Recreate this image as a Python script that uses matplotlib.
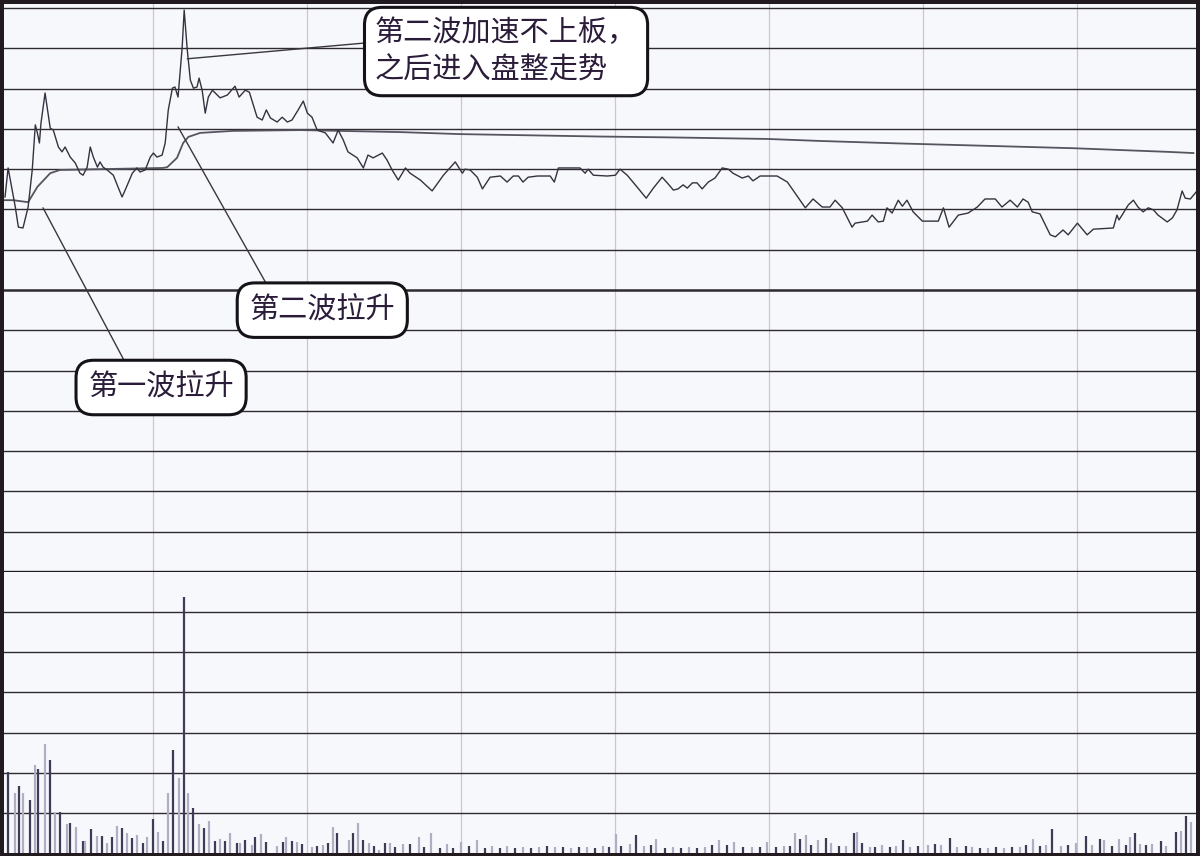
import matplotlib
matplotlib.use("Agg")
import matplotlib.pyplot as plt

plt.rcParams['font.family'] = ['Noto Sans CJK SC', 'DejaVu Sans']

# 分时价格 (minute, % change vs previous close)
price_t = [1.2, 1.8, 3.2, 3.8, 4.7, 5.7, 6.5, 7.1, 7.5, 7.9, 8.2, 9.0, 10.0, 10.6, 11.6, 12.3, 12.9,
           13.9, 14.9, 15.8, 16.4, 17.2, 17.8, 18.4, 19.2, 19.7, 20.3, 21.1, 22.3, 23.2, 24.0, 24.6,
           26.0, 26.9, 27.5, 28.5, 29.5, 30.1, 30.8, 31.8, 32.4, 33.0, 33.8, 34.3, 34.9, 35.7, 36.1,
           36.7, 37.3, 37.9, 38.6, 39.0, 39.6, 40.2, 40.8, 41.6, 43.1, 44.5, 46.0, 46.8, 48.0, 48.8,
           50.3, 51.3, 52.1, 52.9, 54.2, 55.2, 56.2, 57.1, 58.3, 59.3, 60.1, 61.0, 62.0, 63.6, 65.1,
           66.1, 67.1, 68.0, 69.8, 71.0, 71.9, 72.9, 74.7, 75.6, 76.6, 77.8, 79.2, 80.1, 82.1, 84.4,
           86.6, 88.9, 90.3, 90.8, 91.8, 93.2, 94.2, 95.7, 97.7, 99.0, 100.2, 101.2, 102.1, 103.1,
           104.9, 107.4, 108.2, 109.0, 113.2, 114.2, 114.8, 115.8, 118.5, 120.1, 121.0, 122.4, 124.3,
           126.1, 127.5, 129.2, 130.2, 131.4, 132.3, 133.3, 134.1, 135.1, 136.0, 137.0, 138.2, 139.5,
           140.9, 142.1, 143.0, 144.8, 146.0, 146.9, 148.3, 151.6, 153.6, 154.7, 156.1, 157.1, 158.6,
           160.4, 161.9, 162.9, 164.3, 165.3, 166.2, 166.8, 169.2, 170.1, 171.3, 172.3, 173.0, 174.0,
           175.2, 176.0, 176.9, 178.1, 179.9, 183.0, 184.0, 185.1, 186.9, 188.8, 190.6, 192.1, 194.1,
           195.4, 197.0, 198.4, 199.5, 200.5, 201.3, 202.8, 204.8, 205.8, 207.3, 208.3, 210.1, 212.0,
           213.2, 217.1, 217.8, 218.2, 218.8, 220.0, 221.0, 221.9, 222.9, 223.9, 224.9, 225.8, 227.6,
           228.6, 229.5, 230.5, 231.1, 232.1, 233.4]
price_v = [2.31, 3.03, 2.06, 1.56, 1.54, 2.06, 2.98, 4.10, 3.90, 3.65, 4.14, 4.89, 4.02, 3.97, 3.55,
           3.43, 3.55, 3.30, 3.15, 2.90, 2.85, 3.05, 3.55, 3.30, 3.05, 3.18, 3.05, 2.98, 2.85, 2.56,
           2.31, 2.48, 2.90, 3.03, 2.93, 2.98, 3.30, 3.40, 3.30, 3.35, 3.65, 4.47, 5.01, 5.04, 4.79,
           6.01, 6.95, 5.96, 5.21, 5.01, 5.04, 5.26, 4.96, 4.39, 4.79, 4.96, 4.77, 4.84, 5.06, 4.79,
           4.96, 4.91, 4.29, 4.22, 4.47, 4.27, 4.17, 4.29, 4.17, 4.22, 4.47, 4.69, 4.39, 4.29, 3.97,
           3.90, 3.65, 3.97, 3.72, 3.43, 3.28, 3.03, 3.35, 3.28, 3.40, 3.23, 2.98, 2.73, 3.03, 2.90,
           2.73, 2.46, 2.85, 3.18, 2.90, 3.00, 2.98, 2.80, 2.51, 2.80, 2.83, 2.68, 2.83, 2.83, 2.68,
           2.80, 2.83, 2.83, 2.68, 3.03, 3.03, 2.90, 3.00, 2.85, 2.83, 2.85, 3.00, 2.85, 2.56, 2.28,
           2.53, 2.80, 2.66, 2.48, 2.51, 2.61, 2.53, 2.66, 2.66, 2.51, 2.68, 2.78, 3.03, 3.00, 2.90,
           2.78, 2.83, 2.71, 2.83, 2.83, 2.68, 2.48, 2.23, 2.04, 2.26, 2.06, 2.06, 2.23, 2.04, 1.79,
           1.56, 1.66, 1.71, 1.86, 1.69, 1.71, 2.04, 1.91, 2.23, 2.08, 2.23, 1.94, 1.71, 1.71, 2.04,
           1.56, 1.86, 1.91, 2.06, 2.26, 2.26, 2.06, 2.23, 2.06, 2.26, 2.18, 1.94, 1.89, 1.37, 1.32,
           1.49, 1.37, 1.66, 1.37, 1.51, 1.54, 1.86, 1.74, 1.86, 2.11, 2.23, 2.06, 1.94, 2.04, 1.99,
           1.86, 1.69, 1.79, 1.99, 2.46, 2.28, 2.26, 2.46]

# 均价线
avg_t = [0.8, 2.8, 5.7, 7.5, 10.0, 11.9, 19.7, 32.0, 32.8, 34.7, 35.9, 36.9, 39.2, 45.6, 58.7,
         78.2, 89.9, 117.1, 130.0, 149.7, 160.0, 175.0, 195.1, 209.3, 227.6, 232.7]
avg_v = [2.23, 2.23, 2.18, 2.56, 2.90, 2.98, 3.00, 3.03, 3.05, 3.28, 3.65, 3.80, 3.90, 3.95, 3.97,
         3.92, 3.87, 3.81, 3.79, 3.75, 3.70, 3.64, 3.57, 3.52, 3.43, 3.40]

# 成交量
vol_t = [1.8, 3.2, 4.0, 4.7, 6.1, 7.1, 7.7, 9.0, 10.0, 11.0, 11.9, 13.3, 13.9, 15.1, 16.4, 16.8,
         18.0, 19.2, 20.1, 21.1, 22.1, 23.0, 24.0, 25.0, 26.0, 26.9, 28.1, 28.9, 30.1, 31.0, 32.0,
         33.0, 34.0, 35.1, 36.1, 36.9, 37.9, 39.0, 40.0, 41.0, 42.1, 43.1, 44.1, 45.1, 46.4, 47.0,
         48.0, 49.3, 49.9, 51.1, 52.1, 54.2, 55.4, 56.0, 57.1, 58.1, 59.1, 61.0, 62.0, 63.2, 64.1,
         65.1, 65.9, 68.2, 69.0, 70.0, 71.0, 72.1, 73.1, 74.1, 75.3, 76.2, 77.2, 78.8, 80.0, 81.9,
         82.9, 84.2, 86.0, 87.3, 88.5, 90.1, 91.6, 93.2, 94.7, 96.1, 97.7, 99.0, 100.6, 102.1, 103.7,
         105.2, 106.8, 108.4, 109.9, 111.5, 113.0, 114.6, 116.2, 117.7, 118.9, 120.3, 121.2, 123.0,
         124.1, 125.7, 127.1, 128.0, 129.8, 131.4, 132.9, 134.5, 136.0, 137.6, 139.0, 140.3, 141.9,
         143.2, 145.0, 146.7, 148.3, 149.7, 151.4, 153.0, 154.1, 155.1, 156.1, 157.3, 158.2, 159.6,
         161.2, 162.1, 163.7, 165.1, 166.6, 167.2, 168.2, 169.7, 170.7, 172.1, 173.6, 174.8, 176.2,
         177.5, 179.1, 181.0, 182.4, 183.6, 185.3, 186.7, 188.4, 189.6, 191.2, 192.7, 194.3, 195.8,
         197.4, 199.0, 200.1, 201.5, 202.8, 204.0, 205.2, 206.9, 208.3, 209.9, 211.8, 213.0, 214.5,
         215.3, 216.9, 218.2, 219.6, 220.4, 221.4, 222.3, 223.5, 224.7, 226.4, 227.4, 229.3, 230.3,
         231.3, 232.3]
vol_v = [2.01, 1.49, 1.67, 1.49, 1.32, 2.19, 2.09, 2.71, 2.31, 1.02, 1.02, 0.72, 0.75, 0.65, 0.30,
         0.30, 0.60, 0.42, 0.42, 0.25, 0.40, 0.67, 0.62, 0.50, 0.37, 0.45, 0.25, 0.40, 0.85, 0.52,
         0.30, 1.49, 2.56, 1.87, 6.37, 1.49, 1.12, 0.72, 0.62, 0.80, 0.30, 0.35, 0.30, 0.50, 0.25,
         0.25, 0.32, 0.20, 0.40, 0.47, 0.27, 0.17, 0.27, 0.40, 0.30, 0.27, 0.22, 0.15, 0.17, 0.20,
         0.25, 0.65, 0.50, 0.32, 0.50, 0.75, 0.32, 0.25, 0.17, 0.07, 0.25, 0.25, 0.15, 0.22, 0.22,
         0.40, 0.15, 0.50, 0.12, 0.22, 0.12, 0.27, 0.17, 0.32, 0.12, 0.17, 0.12, 0.17, 0.12, 0.15,
         0.12, 0.15, 0.17, 0.15, 0.15, 0.12, 0.15, 0.15, 0.12, 0.17, 0.15, 0.47, 0.17, 0.22, 0.45,
         0.17, 0.20, 0.35, 0.12, 0.15, 0.12, 0.15, 0.12, 0.15, 0.20, 0.32, 0.20, 0.27, 0.15, 0.15,
         0.15, 0.27, 0.15, 0.17, 0.17, 0.50, 0.35, 0.45, 0.20, 0.32, 0.37, 0.25, 0.17, 0.17, 0.50,
         0.52, 0.25, 0.15, 0.15, 0.20, 0.15, 0.17, 0.32, 0.15, 0.17, 0.20, 0.22, 0.20, 0.37, 0.15,
         0.17, 0.15, 0.12, 0.12, 0.15, 0.12, 0.15, 0.15, 0.20, 0.35, 0.17, 0.20, 0.60, 0.17, 0.20,
         0.25, 0.42, 0.20, 0.35, 0.32, 0.17, 0.35, 0.20, 0.40, 0.50, 0.22, 0.20, 0.22, 0.30, 0.17,
         0.52, 0.55, 0.92, 0.77]

time_grid = [30, 60, 90, 120, 150, 180, 210]

W, H = 1200, 856
fig = plt.figure(figsize=(12, 8.56), dpi=100, facecolor='#211a1f')
bg = '#f7f8fc'

ax = fig.add_axes([4 / W, (H - 572) / H, 1192 / W, 568 / H], facecolor=bg)
axv = fig.add_axes([4 / W, 3 / H, 1192 / W, 281 / H], facecolor=bg)

for a in (ax, axv):
    a.set_xlim(1.0, 233.2)
    for s in a.spines.values():
        s.set_visible(False)
    a.set_xticks([])
    a.set_yticks([])
    for t in time_grid:
        a.axvline(t, color='#c8c8d0', lw=0.9, zorder=1)

ax.set_ylim(-7.0, 7.1)
axv.set_ylim(0, 7)

for lv in range(-6, 8):
    ax.axhline(lv, color='#2e2b30', lw=1.8 if lv == 0 else 1.0, zorder=1)
ax.axhline(-7, color='#1e1b20', lw=2.4, zorder=1)
for lv in range(1, 7):
    axv.axhline(lv, color='#2e2b30', lw=1.0, zorder=1)

ax.plot(avg_t, avg_v, color='#56545e', lw=1.3, zorder=3)
ax.plot(price_t, price_v, color='#35323f', lw=1.0, zorder=4)

bar_colors = ['#3f3a55' if i % 2 == 0 else '#b0aec2' for i in range(len(vol_t))]
axv.vlines(vol_t, 0, vol_v, colors=bar_colors, lw=1.6, zorder=3)

box = dict(boxstyle='round,pad=0.42,rounding_size=0.6', fc='white', ec='#151218', lw=2.2)
box_big = dict(box, boxstyle='round,pad=0.36,rounding_size=0.6')
line = dict(arrowstyle='-', color='#3a3640', lw=1.0, shrinkA=0, shrinkB=0)
txt_color = '#2b1d3a'

ax.annotate('第二波加速不上板，\n之后进入盘整走势', xy=(36.7, 5.74), xytext=(98.8, 5.92),
            ha='center', va='center', multialignment='left', fontsize=21, linespacing=1.32,
            color=txt_color, bbox=box_big, zorder=6,
            arrowprops=dict(line, relpos=(0.0, 0.64)))
ax.annotate('第二波拉升', xy=(34.9, 4.05), xytext=(63.0, -0.50),
            ha='center', va='center', fontsize=21, color=txt_color, bbox=box, zorder=6,
            arrowprops=dict(line, relpos=(0.16, 1.0)))
ax.annotate('第一波拉升', xy=(8.6, 2.04), xytext=(31.6, -2.42),
            ha='center', va='center', fontsize=21, color=txt_color, bbox=box, zorder=6,
            arrowprops=dict(line, relpos=(0.29, 1.0)))

fig.savefig('out.png', dpi=100, facecolor=fig.get_facecolor())
